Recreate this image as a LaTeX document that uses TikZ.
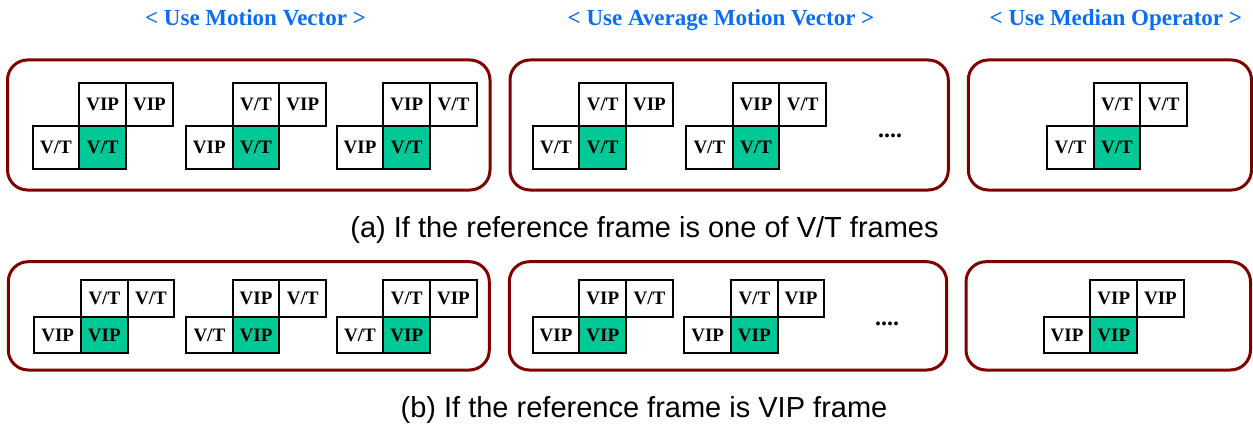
\documentclass[tikz,border=0pt]{standalone}
\usepackage{fontspec}
\setmainfont{Liberation Serif}
\newfontfamily\capfont{Liberation Sans}
\definecolor{ttl}{RGB}{10,110,245}
\definecolor{grn}{RGB}{0,200,150}
\definecolor{frm}{RGB}{128,0,0}
\newcommand\cellgrp[8]{%
  \node[cell=#4] (#1tl) at (#2+46.7,#3) {#5};
  \node[cell=#4] (#1tr) at (#2+93.4,#3) {#6};
  \node[cell=#4] (#1bl) at (#2,#3+#4) {#7};
  \node[cell=#4,fill=grn] (#1bm) at (#2+46.7,#3+#4) {#8};
}
\begin{document}
\begin{tikzpicture}[x=1pt,y=-1pt,
  cell/.style={draw=black,line width=2pt,minimum width=46.7pt,minimum height=#1,
    inner sep=0pt,anchor=north west,font=\bfseries\fontsize{19}{19}\selectfont},
  frame/.style={draw=frm,line width=3pt,rounded corners=20pt},
  title/.style={text=ttl,anchor=base,inner sep=0pt,font=\bfseries\fontsize{23}{23}\selectfont},
  caption/.style={anchor=base,inner sep=0pt,font=\capfont\fontsize{29}{29}\selectfont},
  dots/.style={anchor=base,inner sep=0pt,font=\bfseries\fontsize{24}{24}\selectfont}]
\useasboundingbox (0,0) rectangle (1253,428);
% titles
\node[title] (t1) at (255.5,25.5) {< Use Motion Vector >};
\node[title] (t2) at (721,25.5) {< Use Average Motion Vector >};
\node[title] (t3) at (1115.8,25.5) {< Use Median Operator >};
% frames row a
\draw[frame] (7.5,60) rectangle (490,190);
\draw[frame] (510,60) rectangle (948.3,190);
\draw[frame] (968.3,60) rectangle (1251.5,190);
% frames row b
\draw[frame] (8.3,261.7) rectangle (489.3,370);
\draw[frame] (509.3,261.7) rectangle (946.7,370);
\draw[frame] (966,261.7) rectangle (1250.5,370);
% row a groups
\cellgrp{aa}{31.7}{81.7}{43.3}{VIP}{VIP}{V/T}{V/T}
\cellgrp{ab}{185}{81.7}{43.3}{V/T}{VIP}{VIP}{V/T}
\cellgrp{ac}{335.7}{81.7}{43.3}{VIP}{V/T}{VIP}{V/T}
\cellgrp{ad}{531.7}{81.7}{43.3}{V/T}{VIP}{V/T}{V/T}
\cellgrp{ae}{685}{81.7}{43.3}{VIP}{V/T}{V/T}{V/T}
\cellgrp{af}{1046}{81.7}{43.3}{V/T}{V/T}{V/T}{V/T}
\node[dots] (d1) at (890,137) {....};
% row b groups
\cellgrp{ba}{33.3}{279.3}{36.5}{V/T}{V/T}{VIP}{VIP}
\cellgrp{bb}{185}{279.3}{36.5}{VIP}{V/T}{V/T}{VIP}
\cellgrp{bc}{335.7}{279.3}{36.5}{V/T}{VIP}{V/T}{VIP}
\cellgrp{bd}{531.7}{279.3}{36.5}{VIP}{V/T}{VIP}{VIP}
\cellgrp{be}{683.3}{279.3}{36.5}{V/T}{VIP}{VIP}{VIP}
\cellgrp{bf}{1042.7}{279.3}{36.5}{VIP}{VIP}{VIP}{VIP}
\node[dots] (d2) at (887,325) {....};
% captions
\node[caption] (ca) at (644.5,237) {(a) If the reference frame is one of V/T frames};
\node[caption] (cb) at (644,417) {(b) If the reference frame is VIP frame};
\end{tikzpicture}
\end{document}
